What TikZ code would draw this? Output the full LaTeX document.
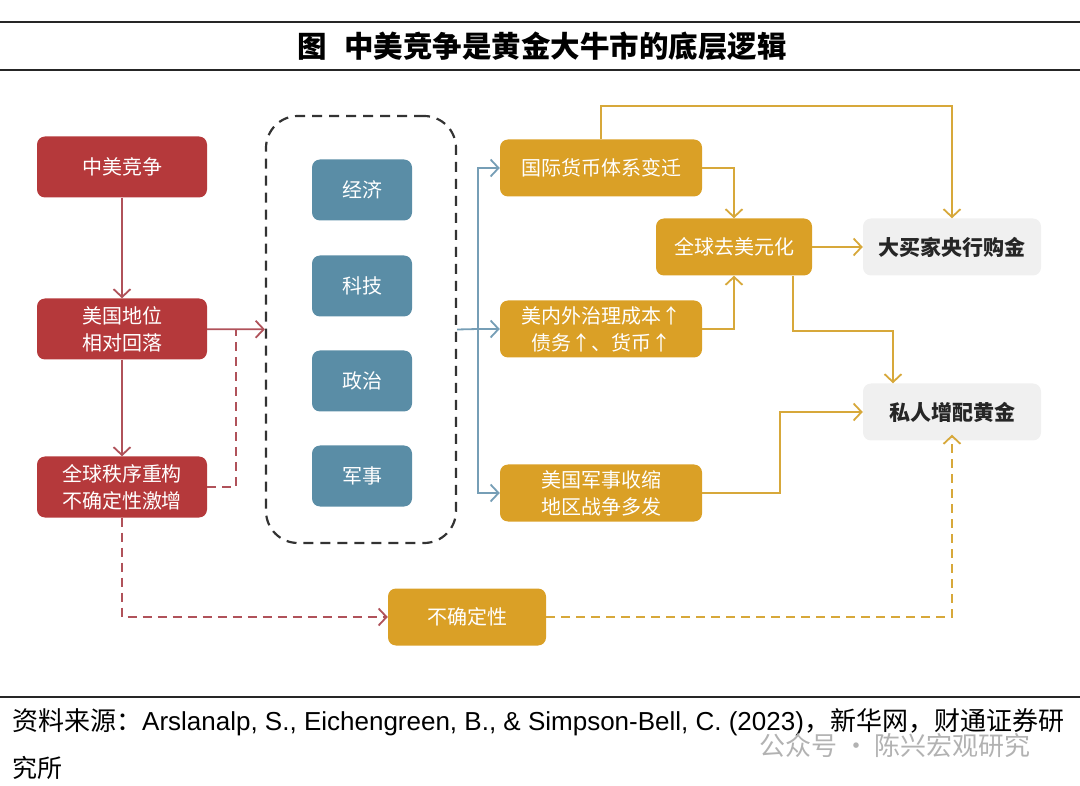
\documentclass[tikz,border=0pt]{standalone}
\usepackage{fontspec}
\usepackage{tikz}
\usepackage{xcolor}
\usetikzlibrary{arrows.meta}
\setmainfont{Liberation Sans}
\newfontfamily\cjk{Noto Sans CJK SC}

\definecolor{redfill}{RGB}{181,57,59}
\definecolor{redwire}{RGB}{176,82,90}
\definecolor{bluefill}{RGB}{90,141,166}
\definecolor{bluewire}{RGB}{118,158,182}
\definecolor{goldfill}{RGB}{218,160,38}
\definecolor{goldwire}{RGB}{215,168,58}
\definecolor{grayfill}{RGB}{240,240,240}

\begin{document}
\begin{tikzpicture}[x=1pt,y=-1pt,
  card/.style={rounded corners=8pt,inner sep=0pt,align=center,text=white,
    minimum height=60pt,font=\cjk\fontsize{20}{27}\selectfont},
  redcard/.style={card,fill=redfill,minimum width=170pt,minimum height=61pt},
  bluecard/.style={card,fill=bluefill,minimum width=100pt,minimum height=61pt},
  goldcard/.style={card,fill=goldfill,minimum width=202pt,minimum height=57pt},
  graycard/.style={card,fill=grayfill,text=black!85,minimum width=178pt,minimum height=57pt,
    font=\cjk\bfseries\fontsize{21}{27}\selectfont},
  fieldbox/.style={draw=black!80,line width=2.2pt,dash pattern=on 10pt off 7pt,rounded corners=32pt},
  barb/.style={-{Straight Barb[length=8pt,width=17pt]}},
  redwire/.style={draw=redwire,line width=1.8pt},
  reddash/.style={redwire,dash pattern=on 9pt off 6pt},
  bluewire/.style={draw=bluewire,line width=1.8pt},
  goldwire/.style={draw=goldwire,line width=1.8pt},
  golddash/.style={goldwire,dash pattern=on 9pt off 6pt}]
\useasboundingbox (0,0) rectangle (1080,786);

% title
\draw[line width=2.5pt,black!85] (0,22) -- (1080,22);
\draw[line width=2pt,black!85] (0,70) -- (1080,70);
\node (title) at (542,46) [font=\cjk\bfseries\fontsize{29.5}{29.5}\selectfont] {图\hspace{0.6em}中美竞争是黄金大牛市的底层逻辑};

% left column
\node (rivalry) at (122,167) [redcard] {中美竞争};
\node (decline) at (122,329) [redcard] {美国地位\\相对回落};
\node (reorder) at (122,487) [redcard] {全球秩序重构\\不确定性激增};

% the four fields
\node (field) at (361,329.5) [fieldbox,minimum width=190pt,minimum height=427pt] {};
\node (economy) at (362,190) [bluecard] {经济};
\node (tech) at (362,286) [bluecard] {科技};
\node (politics) at (362,381) [bluecard] {政治};
\node (military) at (362,476) [bluecard] {军事};

% channels
\node (monetary) at (601,168) [goldcard] {国际货币体系变迁};
\node (cost) at (601,329) [goldcard] {美内外治理成本↑\\债务↑、货币↑};
\node (retreat) at (601,493) [goldcard] {美国军事收缩\\地区战争多发};
\node (dedollar) at (734,247) [goldcard,minimum width=156pt] {全球去美元化};
\node (uncert) at (467,617) [goldcard,minimum width=158pt] {不确定性};
\node (cbgold) at (952,247) [graycard] {大买家央行购金};
\node (pvgold) at (952,412) [graycard] {私人增配黄金};

\coordinate (join) at (236,329);
\coordinate (split) at (478,329);

\draw[redwire,barb] (rivalry) -- (decline);
\draw[redwire,barb] (decline) -- (reorder);
\draw[redwire,barb] (decline) -- (field);
\draw[reddash] (reorder.east) -| (join);
\draw[reddash,barb] (reorder.south) |- (uncert);

\draw[bluewire] (field.east) -- (split);
\draw[bluewire,barb] (split) |- (monetary.west);
\draw[bluewire,barb] (split) -- (cost);
\draw[bluewire,barb] (split) |- (retreat.west);

\draw[goldwire,barb] (monetary.north) -- ++(0,-33) -| (cbgold.north);
\draw[goldwire,barb] (monetary.east) -| (dedollar.north);
\draw[goldwire,barb] (cost.east) -| (dedollar.south);
\draw[goldwire,barb] (dedollar) -- (cbgold);
\draw[goldwire,barb] ([xshift=59pt]dedollar.south) -- ++(0,55) -| ([xshift=-59pt]pvgold.north);
\draw[goldwire,barb] (retreat.east) -| ([xshift=-83pt]pvgold.west) -- (pvgold.west);
\draw[golddash,barb] (uncert.east) -| ([yshift=6pt]pvgold.south);

% source
\draw[line width=2pt,black!85] (0,697) -- (1080,697);
\node (source) at (12,722) [anchor=west,inner sep=0pt,font=\fontsize{26}{26}\selectfont]
  {{\cjk 资料来源：}Arslanalp, S., Eichengreen, B., \& Simpson-Bell, C. (2023){\cjk ，新华网，财通证券研}};
\node (source2) at (12,768) [anchor=west,inner sep=0pt,font=\cjk\fontsize{25}{25}\selectfont] {究所};
\node (mark) at (895,746) [text=black!30,font=\cjk\fontsize{26}{26}\selectfont] {公众号 · 陈兴宏观研究};
\end{tikzpicture}
\end{document}
